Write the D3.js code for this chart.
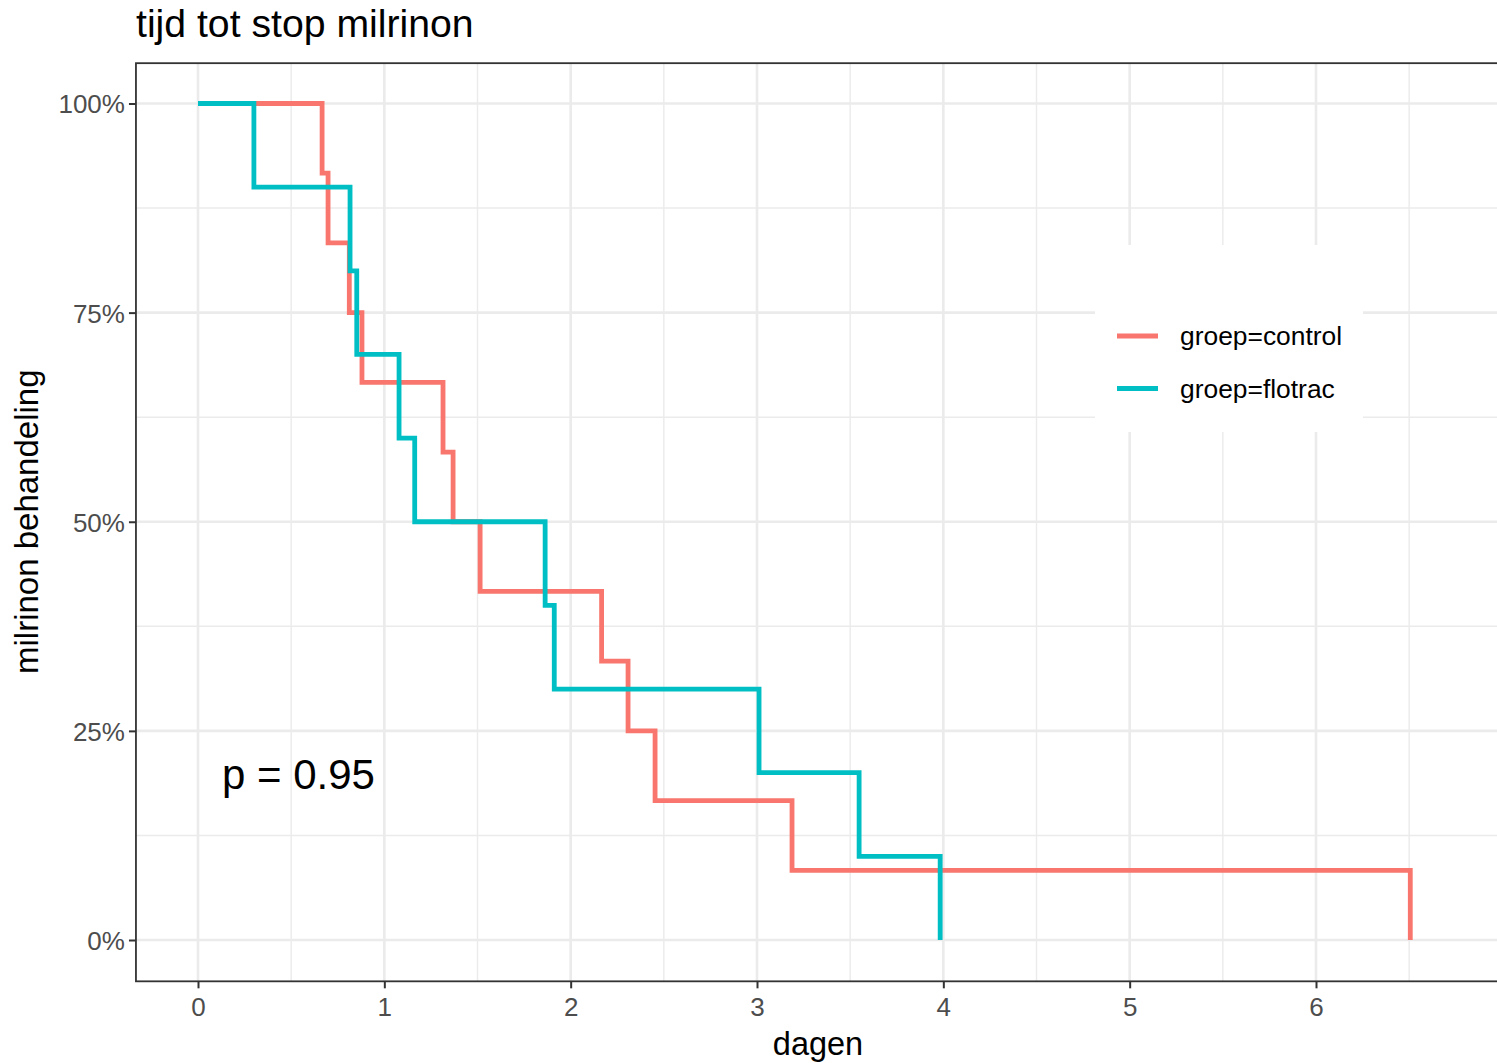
<!DOCTYPE html>
<html>
<head>
<meta charset="utf-8">
<script src="https://cdn.jsdelivr.net/npm/d3@7"></script>
<style>
  html, body { margin: 0; padding: 0; background: #fff; }
  svg { display: block; font-family: "Liberation Sans", Arial, sans-serif; }
</style>
</head>
<body>
<script>
// ---- data ----
const controlTimes = [0, 0.666, 0.698, 0.812, 0.88, 1.315, 1.369, 1.514, 2.166, 2.308, 2.453, 3.188, 6.506];
const controlSurv  = [1, 0.9167, 0.8333, 0.75, 0.6667, 0.5833, 0.50, 0.4167, 0.3333, 0.25, 0.1667, 0.0833, 0];
const flotracTimes = [0, 0.300, 0.816, 0.852, 1.079, 1.163, 1.863, 1.912, 3.011, 3.548, 3.983];
const flotracSurv  = [1, 0.90, 0.80, 0.70, 0.60, 0.50, 0.40, 0.30, 0.20, 0.10, 0];
const seriesNames  = ["groep=control", "groep=flotrac"];
const seriesColors = ["#F8766D", "#00BFC4"];
const xTicks = [0, 1, 2, 3, 4, 5, 6];
const xMinor = [0.5, 1.5, 2.5, 3.5, 4.5, 5.5, 6.5];
const yTicks = [0, 0.25, 0.5, 0.75, 1];
const yTickLabels = ["0%", "25%", "50%", "75%", "100%"];
const yMinor = [0.125, 0.375, 0.625, 0.875];
const titleText = "tijd tot stop milrinon";
const xTitle = "dagen";
const yTitle = "milrinon behandeling";
const pText = "p = 0.95";

const W = 1497, H = 1063;
const svg = d3.select("body").append("svg").attr("width", W).attr("height", H);

const x = d3.scaleLinear().domain([0, 6]).range([198, 1316]);
const y = d3.scaleLinear().domain([0, 1]).range([940, 103.5]);

const pL = x(-0.333), pR = W + 10, pT = y(1.05) + 1.5, pB = y(-0.05) - 0.5;

// panel background
svg.append("rect").attr("x", pL).attr("y", pT).attr("width", pR - pL).attr("height", pB - pT).attr("fill", "#fff");

const grid = svg.append("g");
// minor grid
grid.selectAll(".xm").data(xMinor).join("line")
  .attr("x1", d => x(d)).attr("x2", d => x(d)).attr("y1", pT).attr("y2", pB)
  .attr("stroke", "#EBEBEB").attr("stroke-width", 1.4);
grid.selectAll(".ym").data(yMinor).join("line")
  .attr("x1", pL).attr("x2", pR).attr("y1", d => y(d)).attr("y2", d => y(d))
  .attr("stroke", "#EBEBEB").attr("stroke-width", 1.4);
// major grid
grid.selectAll(".xM").data(xTicks).join("line")
  .attr("x1", d => x(d)).attr("x2", d => x(d)).attr("y1", pT).attr("y2", pB)
  .attr("stroke", "#EBEBEB").attr("stroke-width", 2.6);
grid.selectAll(".yM").data(yTicks).join("line")
  .attr("x1", pL).attr("x2", pR).attr("y1", d => y(d)).attr("y2", d => y(d))
  .attr("stroke", "#EBEBEB").attr("stroke-width", 2.6);

// curves
const line = d3.line().x(d => x(d[0])).y(d => y(d[1])).curve(d3.curveStepAfter);
const curves = [
  d3.zip(controlTimes, controlSurv),
  d3.zip(flotracTimes, flotracSurv)
];
curves.forEach((c, i) => {
  svg.append("path").datum(c).attr("d", line)
    .attr("fill", "none").attr("stroke", seriesColors[i]).attr("stroke-width", 4.8)
    .attr("stroke-linejoin", "miter").attr("stroke-linecap", "butt");
});

// p-value
svg.append("text").attr("x", 222).attr("y", 789).attr("font-size", 42).attr("fill", "#000").text(pText);

// legend
const lg = svg.append("g");
lg.append("rect").attr("x", 1095).attr("y", 245).attr("width", 268).attr("height", 187).attr("fill", "#fff");
seriesNames.forEach((n, i) => {
  const yy = 336 + i * 52.5;
  lg.append("line").attr("x1", 1117).attr("x2", 1158).attr("y1", yy).attr("y2", yy)
    .attr("stroke", seriesColors[i]).attr("stroke-width", 4.8);
  lg.append("text").attr("x", 1180).attr("y", yy + 9).attr("font-size", 26.4).attr("fill", "#000").text(n);
});

// panel border
svg.append("rect").attr("x", pL).attr("y", pT).attr("width", pR - pL).attr("height", pB - pT)
  .attr("fill", "none").attr("stroke", "#333333").attr("stroke-width", 1.8);

// axes
const xAxis = svg.append("g").attr("transform", `translate(0,${pB})`)
  .call(d3.axisBottom(x).tickValues(xTicks).tickFormat(d3.format("d")).tickSize(7).tickPadding(8));
const yAxis = svg.append("g").attr("transform", `translate(${pL},0)`)
  .call(d3.axisLeft(y).tickValues(yTicks).tickFormat((d, i) => yTickLabels[i]).tickSize(7).tickPadding(4));
[xAxis, yAxis].forEach(a => {
  a.select(".domain").remove();
  a.selectAll(".tick line").attr("stroke", "#333333").attr("stroke-width", 2);
  a.selectAll(".tick text").attr("fill", "#4D4D4D").attr("font-size", 26)
    .attr("font-family", "'Liberation Sans', Arial, sans-serif");
});
xAxis.selectAll(".tick text").attr("dy", "0.75em");
yAxis.selectAll(".tick text").attr("dy", "0.36em");

// titles
svg.append("text").attr("x", 136).attr("y", 37).attr("font-size", 39.2).attr("fill", "#000").text(titleText);
svg.append("text").attr("x", 818).attr("y", 1055).attr("text-anchor", "middle").attr("font-size", 32.5).attr("fill", "#000").text(xTitle);
svg.append("text").attr("transform", `translate(38,${y(0.5)}) rotate(-90)`).attr("text-anchor", "middle")
  .attr("font-size", 33).attr("fill", "#000").text(yTitle);
</script>
</body>
</html>
